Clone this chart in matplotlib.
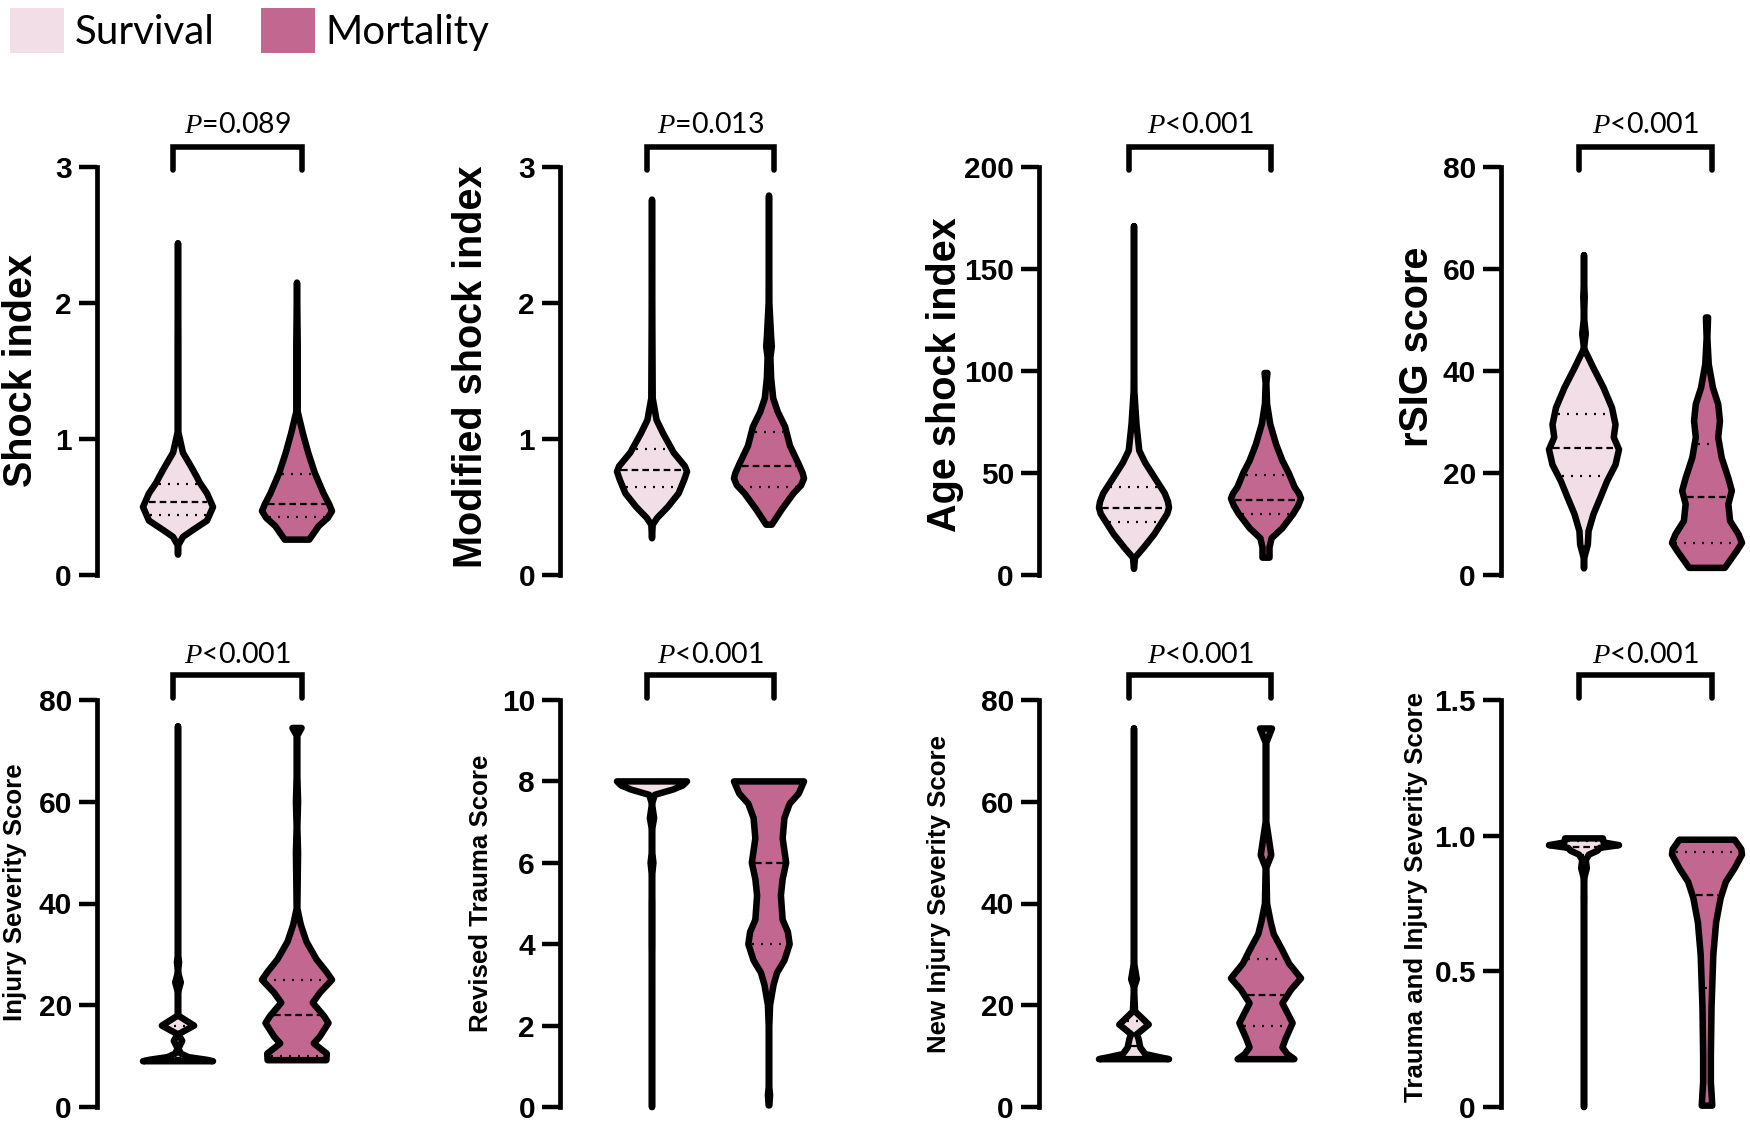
import numpy as np
import matplotlib
matplotlib.use("Agg")
import matplotlib.pyplot as plt
import matplotlib.transforms as mtransforms
from matplotlib.patches import Patch

W, H = 1750, 1125

plt.rcParams['font.family'] = ['Liberation Sans', 'DejaVu Sans']
plt.rcParams['mathtext.fontset'] = 'custom'
plt.rcParams['mathtext.it'] = 'Liberation Serif:italic'
plt.rcParams['mathtext.rm'] = 'Lato'

SURV_COLOR = '#F2DEE6'
MORT_COLOR = '#C2678F'
groups = ['Survival', 'Mortality']

# ---- violin outlines: value -> relative half-width (0-100)
si_surv_vals = [2.44, 1.7, 1.05, 0.90, 0.79, 0.72, 0.68, 0.60, 0.50, 0.40, 0.33, 0.28, 0.22, 0.15]
si_surv_dens = [0, 1, 1, 14, 39, 54, 62, 83, 100, 83, 42, 14, 1, 0]
si_mort_vals = [2.15, 1.7, 1.2, 1.04, 0.90, 0.75, 0.60, 0.52, 0.47, 0.42, 0.36, 0.26]
si_mort_dens = [0, 2, 2, 17, 32, 51, 76, 92, 100, 88, 62, 35]

msi_surv_vals = [2.76, 1.8, 1.3, 1.14, 1.04, 0.90, 0.80, 0.76, 0.70, 0.65, 0.60, 0.50, 0.42, 0.37, 0.27]
msi_surv_dens = [0, 1, 2, 13, 32, 62, 94, 100, 92, 84, 76, 45, 15, 2, 0]
msi_mort_vals = [2.79, 2.0, 1.75, 1.68, 1.60, 1.45, 1.30, 1.20, 1.09, 0.95, 0.82, 0.75, 0.71,
                 0.66, 0.60, 0.48, 0.37]
msi_mort_dens = [0, 1, 6, 8, 4, 6, 12, 25, 46, 60, 84, 96, 100, 92, 70, 36, 8]

asi_surv_vals = [171, 120, 90, 74, 61, 55, 48, 40, 36, 33, 30, 27, 20, 13.5, 8.5, 3]
asi_surv_dens = [0, 0, 1, 7, 15, 32, 58, 88, 97, 100, 95, 84, 58, 28, 3, 0]
asi_mort_vals = [99, 94, 84, 74, 64, 56, 50, 43, 40, 37.5, 34, 30, 23, 18, 13.5, 8.5]
asi_mort_dens = [4, 1, 3, 12, 29, 47, 65, 82, 94, 100, 92, 78, 47, 16, 10, 10]

rsig_surv_vals = [62.7, 58, 54.5, 50.5, 47.3, 44.4, 40.6, 36.7, 32.8, 29.5, 27, 24.6,
                  21.6, 18.4, 15.2, 11.9, 8.6, 6, 3.4, 1.3]
rsig_surv_dens = [0, 0, 2, 0, 5, 0, 27, 56, 80, 90, 85, 100, 90, 66, 47, 27, 13, 11, 1, 0]
rsig_mort_vals = [50.5, 46.5, 41.3, 36.7, 33.5, 30.2, 27, 23, 19, 16.5, 13.9, 10.6, 8, 6.3, 4.7, 1.4]
rsig_mort_dens = [3, 1, 5, 17, 32, 37, 32, 42, 61, 71, 61, 66, 90, 100, 85, 51]

iss_surv_vals = [74.8, 30, 28.5, 26.5, 24.5, 22.5, 18, 16, 14.3, 13, 11.5, 10.5, 9.8, 9.3, 9.0]
iss_surv_dens = [0, 0, 3, 0, 8, 0, 0, 46, 1, 12, 1, 8, 30, 80, 100]
iss_mort_vals = [74.5, 73, 65, 60, 55, 50, 39, 35.8, 32.5, 29, 26.5, 25, 22.5, 20.5,
                 17.8, 16.5, 13.8, 12.5, 10.5, 9.2]
iss_mort_dens = [13, 1, 1, 3, 1, 3, 1, 11, 27, 56, 85, 100, 66, 45, 78, 90, 65, 48, 85, 84]

rts_surv_vals = [8.0, 7.9, 7.8, 7.67, 7.45, 7.1, 6.8, 6.3, 6.0, 5.66, 5.0, 4.0, 3.0, 0.0]
rts_surv_dens = [100, 88, 60, 8, 0, 6, 0, 0, 4, 0, 1, 1, 0, 0]
rts_mort_vals = [8.0, 7.7, 7.45, 7.1, 6.6, 6.3, 6.0, 5.6, 5.2, 4.6, 4.3, 4.0, 3.6, 3.3,
                 3.0, 2.5, 1.8, 1.0, 0.55, 0.3, 0.04]
rts_mort_dens = [100, 85, 59, 44, 39, 44, 49, 39, 34, 39, 54, 59, 44, 23, 13, 3, 0, 0, 0, 3, 1]

niss_surv_vals = [74.4, 34, 28, 25.1, 23.5, 18.8, 16.2, 14.3, 13.4, 11.7, 10.4, 9.9, 9.4]
niss_surv_dens = [0, 0, 1, 8, 0, 3, 42, 8, 13, 18, 32, 65, 100]
niss_mort_vals = [74.4, 71.6, 56, 52.8, 49.5, 47, 40, 36.5, 34, 30.8, 28.2, 25.3, 23, 20.4,
                  16.5, 13.4, 11.7, 10.4, 9.4]
niss_mort_dens = [17, 1, 1, 8, 15, 1, 3, 13, 22, 47, 66, 100, 71, 47, 76, 56, 47, 61, 81]

triss_surv_vals = [0.99, 0.975, 0.965, 0.955, 0.945, 0.93, 0.91, 0.88, 0.85, 0.83, 0.77, 0.70, 0.0]
triss_surv_dens = [54, 56, 100, 45, 39, 14, 5, 8, 2, 0, 1, 0, 0]
triss_mort_vals = [0.985, 0.95, 0.93, 0.88, 0.83, 0.77, 0.68, 0.56, 0.37, 0.19, 0.09, 0.05, 0.005]
triss_mort_dens = [79, 98, 100, 79, 54, 39, 26, 18, 13, 11, 11, 13, 15]

# quartiles: Q1, median, Q3
si_q = ([0.44, 0.54, 0.67], [0.43, 0.52, 0.74])
msi_q = ([0.65, 0.77, 0.93], [0.65, 0.80, 1.05])
asi_q = ([26, 33, 43], [30, 37, 49])
rsig_q = ([19.4, 25, 31.5], [6.3, 15.3, 25.6])
iss_q = ([9.0, 9.6, 16], [10, 18, 25])
rts_q = ([8, 8, 8], [4, 6, 8])
niss_q = ([9.4, 12, 17], [16, 22, 29])
triss_q = ([0.93, 0.96, 0.98], [0.44, 0.78, 0.94])

ylabels = ['Shock index', 'Modified shock index', 'Age shock index', 'rSIG score',
           'Injury Severity Score', 'Revised Trauma Score', 'New Injury Severity Score',
           'Trauma and Injury Severity Score']
p_texts = ['=0.089', '=0.013', '<0.001', '<0.001', '<0.001', '<0.001', '<0.001', '<0.001']
y_max = [3, 3, 200, 80, 80, 10, 80, 1.5]
y_ticks = [[0, 1, 2, 3], [0, 1, 2, 3], [0, 50, 100, 150, 200], [0, 20, 40, 60, 80],
           [0, 20, 40, 60, 80], [0, 2, 4, 6, 8, 10], [0, 20, 40, 60, 80], [0, 0.5, 1.0, 1.5]]
y_ticklabels = [None, None, None, None, None, None, None, ['0', '0.5', '1.0', '1.5']]

profiles = [
    ((si_surv_vals, si_surv_dens), (si_mort_vals, si_mort_dens), si_q),
    ((msi_surv_vals, msi_surv_dens), (msi_mort_vals, msi_mort_dens), msi_q),
    ((asi_surv_vals, asi_surv_dens), (asi_mort_vals, asi_mort_dens), asi_q),
    ((rsig_surv_vals, rsig_surv_dens), (rsig_mort_vals, rsig_mort_dens), rsig_q),
    ((iss_surv_vals, iss_surv_dens), (iss_mort_vals, iss_mort_dens), iss_q),
    ((rts_surv_vals, rts_surv_dens), (rts_mort_vals, rts_mort_dens), rts_q),
    ((niss_surv_vals, niss_surv_dens), (niss_mort_vals, niss_mort_dens), niss_q),
    ((triss_surv_vals, triss_surv_dens), (triss_mort_vals, triss_mort_dens), triss_q),
]

# ---- layout in pixels (spine x, violin 1 x, violin 2 x) and (top, bottom)
col_px = [(97, 178, 297), (560, 652, 769), (1039, 1134, 1266), (1501, 1584, 1707)]
row_px = [(167, 575), (700, 1107)]
label_px = [(32, 371), (482, 367), (956, 375), (1428, 347),
            (22, 892), (488, 893), (946, 894), (1423, 897)]
label_size = [28.5] * 4 + [18.6] * 4
# bracket top, leg end, text baseline (pixels above axes top)
bracket_px = [(20, -3, 34), (25, 2, 37)]

HALF_PX = 35       # widest violin half-width
OUTLINE = 4.7      # pt


def draw_violin(ax, pos, vals, dens, quart, color, half, inset):
    y = np.asarray(vals, float)
    w = np.asarray(dens, float)
    w = w / w.max() * half
    xs = np.concatenate([pos - w, (pos + w)[::-1]])
    ys = np.concatenate([y, y[::-1]])
    ax.fill(xs, ys, facecolor=color, edgecolor='none', zorder=3, clip_on=False)
    order = np.argsort(y)
    styles = [(0, (0.9, 3.15)), (0, (3.0, 1.8)), (0, (0.9, 3.15))]
    for q, ls in zip(quart, styles):
        hw = np.interp(q, y[order], w[order]) - inset
        if hw > 0:
            ax.plot([pos - hw, pos + hw], [q, q], color='black', lw=1.6,
                    linestyle=ls, zorder=4, clip_on=False)
    ax.fill(xs, ys, facecolor='none', edgecolor='black', lw=OUTLINE,
            joinstyle='round', zorder=5, clip_on=False)


fig = plt.figure(figsize=(W / 100, H / 100), dpi=100)
fig.patch.set_facecolor('white')

for i in range(8):
    r, c = divmod(i, 4)
    spine, c1, c2 = col_px[c]
    top, bot = row_px[r]
    s = c2 - c1
    right = c2 + 70
    ax = fig.add_axes([spine / W, 1 - bot / H, (right - spine) / W, (bot - top) / H])
    ax.set_xlim(1 - (c1 - spine) / s, 2 + (right - c2) / s)
    ax.set_ylim(0, y_max[i])

    surv, mort, (q_s, q_m) = profiles[i]
    half = HALF_PX / s
    inset = 3.3 / s
    draw_violin(ax, 1, surv[0], surv[1], q_s, SURV_COLOR, half, inset)
    draw_violin(ax, 2, mort[0], mort[1], q_m, MORT_COLOR, half, inset)

    for side in ['top', 'right', 'bottom']:
        ax.spines[side].set_visible(False)
    ax.spines['left'].set_linewidth(3.4)
    ax.set_xticks([])
    ax.set_yticks(y_ticks[i])
    if y_ticklabels[i] is not None:
        ax.set_yticklabels(y_ticklabels[i])
    ax.tick_params(axis='y', length=13, width=3.2, pad=5, labelsize=21.5)
    for lbl in ax.get_yticklabels():
        lbl.set_fontweight('bold')

    lx, ly = label_px[i]
    ax.set_ylabel(ylabels[i], fontsize=label_size[i], fontweight='bold',
                  rotation=90, rotation_mode='anchor', ha='center', va='baseline')
    ax.yaxis.set_label_coords(lx / W, 1 - ly / H, transform=fig.transFigure)

    # significance bracket
    h = bot - top
    b_top, b_leg, t_off = bracket_px[r]
    trans = mtransforms.blended_transform_factory(ax.transData, ax.transAxes)
    d = 5 / s
    ax.plot([1 - d, 1 - d, 2 + d, 2 + d],
            [1 + b_leg / h, 1 + b_top / h, 1 + b_top / h, 1 + b_leg / h],
            color='black', lw=4.0, transform=trans, clip_on=False,
            solid_capstyle='round', solid_joinstyle='miter')
    ax.text(1.5, 1 + t_off / h, '$P$' + p_texts[i], transform=trans,
            ha='center', va='baseline', fontsize=20.5, family='Lato')

handles = [Patch(facecolor=SURV_COLOR, edgecolor='none'),
           Patch(facecolor=MORT_COLOR, edgecolor='none')]
fig.legend(handles, groups, loc='upper left', bbox_to_anchor=(10 / W, 1 - 8 / H),
           ncol=2, frameon=False, prop={'family': 'Lato', 'size': 29},
           handlelength=1.35, handleheight=1.35, handletextpad=0.25,
           columnspacing=1.15, borderaxespad=0, borderpad=0)

fig.savefig('out.png', dpi=100, facecolor='white')
